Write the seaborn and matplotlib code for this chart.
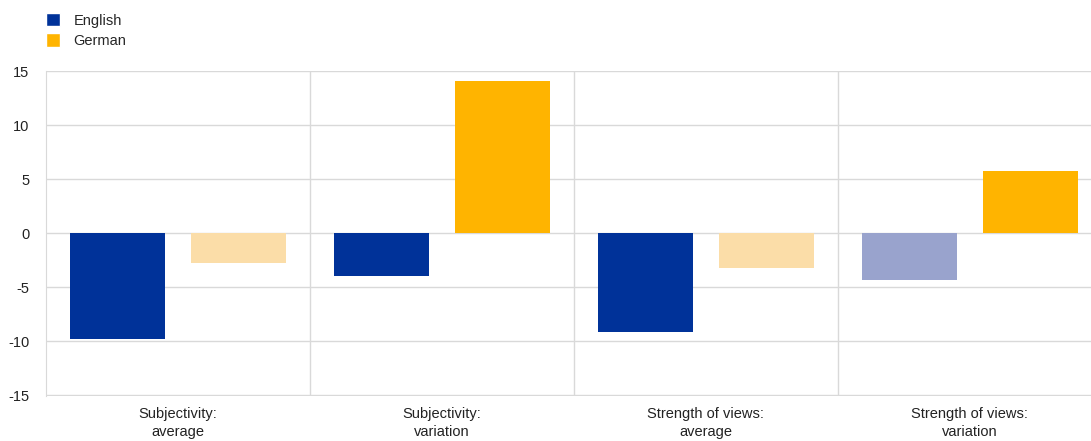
import matplotlib
matplotlib.use("Agg")
import matplotlib.pyplot as plt
import seaborn as sns
import pandas as pd
from matplotlib.patches import Patch

categories = ["Subjectivity:\naverage", "Subjectivity:\nvariation",
              "Strength of views:\naverage", "Strength of views:\nvariation"]
english = [-9.8, -4.0, -9.2, -4.3]
german = [-2.8, 14.1, -3.2, 5.7]
english_colors = ["#003299", "#003299", "#003299", "#99A3CD"]
german_colors = ["#FBDDA8", "#FFB400", "#FBDDA8", "#FFB400"]

df = pd.DataFrame({
    "category": categories * 2,
    "value": english + german,
    "language": ["English"] * 4 + ["German"] * 4,
})

sns.set_style("white")
plt.rcParams["font.family"] = ["Liberation Sans", "DejaVu Sans"]
plt.rcParams["axes.unicode_minus"] = False

fig = plt.figure(figsize=(10.91, 4.41), dpi=100)
ax = fig.add_axes([0.042, 0.102, 0.968, 0.737])

sns.barplot(data=df, x="category", y="value", hue="language",
            order=categories, hue_order=["English", "German"],
            palette={"English": "#003299", "German": "#FFB400"},
            width=0.92, gap=0.217, legend=False, ax=ax,
            saturation=1, linewidth=0, errorbar=None)

for cont, cols in zip(ax.containers, [english_colors, german_colors]):
    for bar, c in zip(cont, cols):
        bar.set_facecolor(c)
        bar.set_edgecolor("none")
        bar.set_zorder(3)

ax.set_ylim(-15.08, 15)
ax.set_xlim(-0.5, 3.5)
ax.set_yticks([-15, -10, -5, 0, 5, 10, 15])
ax.set_xticks([0.5, 1.5, 2.5], minor=True)
ax.grid(axis="y", which="major", color="#D9D9D9", linewidth=1, zorder=0)
ax.grid(axis="x", which="minor", color="#D9D9D9", linewidth=1, zorder=0)
ax.grid(axis="x", which="major", visible=False)
ax.set_axisbelow(True)
for s in ["top", "right", "bottom"]:
    ax.spines[s].set_visible(False)
ax.spines["left"].set_color("#D9D9D9")
ax.tick_params(axis="both", which="both", length=0, labelsize=10.5, colors="#222222")
ax.tick_params(axis="x", pad=8)
ax.tick_params(axis="y", pad=12)
for lbl in ax.get_xticklabels():
    lbl.set_linespacing(1.35)
ax.set_xlabel("")
ax.set_ylabel("")

handles = [Patch(facecolor="#003299", label="English"),
           Patch(facecolor="#FFB400", label="German")]
fig.legend(handles=handles, loc="upper left", bbox_to_anchor=(0.030, 1.0),
           frameon=False, fontsize=10.5, handlelength=1.0, handleheight=1.0,
           handletextpad=0.9, labelspacing=0.4)

fig.savefig("out.png", dpi=100)
